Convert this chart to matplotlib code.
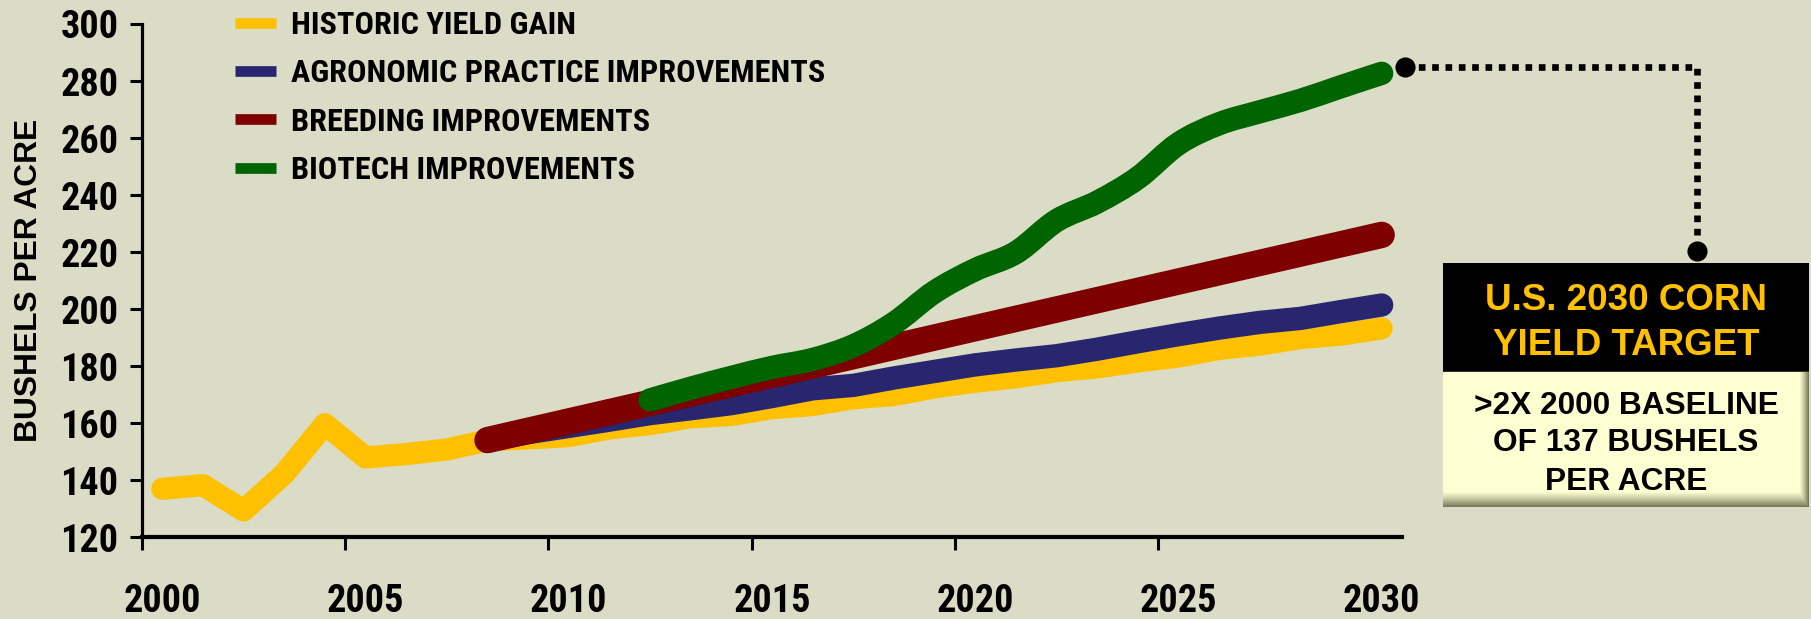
import numpy as np
import matplotlib
matplotlib.use("Agg")
import matplotlib.pyplot as plt
from matplotlib.path import Path
from matplotlib.patches import PathPatch, Rectangle
from matplotlib.font_manager import FontProperties
from matplotlib import font_manager as fm

# ---------------- data ----------------
hist_years = list(range(2000, 2031))
hist_yield = [136.9, 138.2, 129.3, 142.2, 159.6, 147.9, 149.1, 150.7, 153.9, 154.6,
              155.4, 158.1, 159.6, 162.0, 162.8, 165.2, 166.3, 168.7, 169.8, 172.5,
              174.5, 176.0, 178.2, 179.5, 181.6, 183.3, 186.0, 187.5, 189.8, 191.0, 193.2]

agro_years = list(range(2008, 2031))
agro_yield = [153.9, 156.6, 158.8, 161.0, 163.3, 165.0, 166.8, 169.3, 172.0, 173.2,
              175.8, 178.1, 180.4, 182.1, 183.6, 185.9, 188.5, 191.0, 193.3, 195.3,
              196.7, 199.1, 201.4]

breed_years = [2008, 2030]
breed_yield = [154.0, 226.0]

bio_years = list(range(2012, 2031))
bio_yield = [168.1, 172.2, 176.0, 179.5, 182.3, 187.1, 195.0, 206.0, 213.8, 219.8,
             231.0, 237.5, 246.0, 258.0, 265.0, 269.2, 273.2, 278.0, 282.7]

series_labels = ["HISTORIC YIELD GAIN", "AGRONOMIC PRACTICE IMPROVEMENTS",
                 "BREEDING IMPROVEMENTS", "BIOTECH IMPROVEMENTS"]
label_years = [2000, 2005, 2010, 2015, 2020, 2025, 2030]
y_ticks = list(range(120, 301, 20))

box_title = ["U.S. 2030 CORN", "YIELD TARGET"]
box_body = [">2X 2000 BASELINE", "OF 137 BUSHELS", "PER ACRE"]

# ---------------- style ----------------
BG = "#DBDCC5"
YELLOW = "#FFC000"
NAVY = "#28266F"
MAROON = "#7E0000"
GREEN = "#006400"
CREAM = "#FEFED3"
WIDE = ["Liberation Sans", "DejaVu Sans"]


def bold_families():
    out = set()
    for f in fm.fontManager.ttflist:
        w = f.weight
        if isinstance(w, str):
            w = fm.weight_dict.get(w, 400)
        if f.style == "normal" and w >= 600:
            out.add(f.name)
    return out


_have = bold_families()
_narrow_cands = ["Liberation Sans Narrow", "Arial Narrow", "Roboto Condensed", "PT Sans Narrow",
                 "Open Sans Condensed", "Barlow Semi Condensed", "Fira Sans Condensed",
                 "IBM Plex Sans Condensed"]
NARROW_FAM = next((c for c in _narrow_cands if c in _have), None)
if NARROW_FAM is None:
    def narrow_fp(size):
        return FontProperties(family="DejaVu Sans", stretch="condensed", weight="bold", size=size)
else:
    def narrow_fp(size):
        return FontProperties(family=[NARROW_FAM, "Liberation Sans"], weight="bold", size=size)

W, H = 1811, 619
fig = plt.figure(figsize=(W / 100, H / 100), dpi=100, facecolor=BG)
renderer = fig.canvas.get_renderer()


def text_size_for(s, fp_func, target_px):
    t = fig.text(0, 0, s, fontproperties=fp_func(100))
    bb = t.get_window_extent(renderer)
    t.remove()
    return 100 * target_px / bb.width


tick_size = text_size_for("300", narrow_fp, 58)
legend_size = text_size_for(series_labels[1], narrow_fp, 534)
wide_fp = lambda s: FontProperties(family=WIDE, weight="bold", size=s)
ylabel_size = text_size_for("BUSHELS PER ACRE", wide_fp, 323)

ax_l, ax_r, ax_t, ax_b = 142, 1402, 24, 537
ax = fig.add_axes([ax_l / W, 1 - ax_b / H, (ax_r - ax_l) / W, (ax_b - ax_t) / H], facecolor=BG)

ax.plot(hist_years, hist_yield, color=YELLOW, lw=16, solid_capstyle="round",
        solid_joinstyle="round", label=series_labels[0], zorder=2, clip_on=False)
ax.plot(agro_years, agro_yield, color=NAVY, lw=16.8, solid_capstyle="round",
        solid_joinstyle="round", label=series_labels[1], zorder=3, clip_on=False)
ax.plot(breed_years, breed_yield, color=MAROON, lw=19, solid_capstyle="round",
        solid_joinstyle="round", label=series_labels[2], zorder=4, clip_on=False)

# smoothed (Bezier) biotech line, like a spreadsheet "smoothed line"
P = np.column_stack([bio_years, bio_yield]).astype(float)
ext = np.vstack([P[0], P, P[-1]])
verts = [tuple(P[0])]
codes = [Path.MOVETO]
for i in range(len(P) - 1):
    p_prev, p0, p1, p_next = ext[i], ext[i + 1], ext[i + 2], ext[i + 3]
    c1 = p0 + (p1 - p_prev) / 6.0
    c2 = p1 - (p_next - p0) / 6.0
    verts += [tuple(c1), tuple(c2), tuple(p1)]
    codes += [Path.CURVE4] * 3
bio_patch = PathPatch(Path(verts, codes), fill=False, edgecolor=GREEN, lw=16.8,
                      capstyle="round", joinstyle="round", zorder=5, clip_on=False)
ax.add_patch(bio_patch)
ax.plot([], [], color=GREEN, lw=16.8, label=series_labels[3])

ax.set_xlim(label_years[0] - 0.5, label_years[-1] + 0.5)
ax.set_ylim(y_ticks[0], y_ticks[-1])

# category-style x axis: ticks at boundaries, labels at category centres
tick_fp = narrow_fp(tick_size)
ax.set_xticks([y - 0.5 for y in label_years[:-1]])
ax.set_xticklabels([])
ax.set_xticks(label_years, minor=True)
ax.set_xticklabels([str(y) for y in label_years], minor=True, fontproperties=tick_fp)
ax.tick_params(axis="x", which="major", direction="out", length=9, width=2.2, color="black")
ax.tick_params(axis="x", which="minor", length=0, pad=33)
ax.set_yticks(y_ticks)
ax.set_yticklabels([str(v) for v in y_ticks], fontproperties=tick_fp)
ax.tick_params(axis="y", direction="out", length=9, width=2.2, pad=8)

for s in ["top", "right"]:
    ax.spines[s].set_visible(False)
ax.spines["left"].set_linewidth(2.3)
ax.spines["bottom"].set_linewidth(3.0)

ax.set_ylabel("BUSHELS PER ACRE", fontproperties=wide_fp(ylabel_size), va="center")
ax.yaxis.set_label_coords((29 - ax_l) / (ax_r - ax_l), 0.5)

# legend: fit row spacing and position to the reference rows
row_targets = [25.0, 73.0, 121.5, 170.0]   # text-box centres, px from top
handle_left = 235
leg_fp = narrow_fp(legend_size)
fs_px = legend_size * 100 / 72


def make_legend(ls, top_px):
    lg = ax.legend(loc="upper left", bbox_to_anchor=(handle_left / W, 1 - top_px / H),
                   bbox_transform=fig.transFigure, frameon=False, prop=leg_fp,
                   handlelength=41 / fs_px, handletextpad=15 / fs_px, labelspacing=ls,
                   borderpad=0, borderaxespad=0)
    for hl in lg.get_lines():
        hl.set_linewidth(7.7)
        hl.set_solid_capstyle("butt")
    return lg


def centres(lg):
    fig.canvas.draw()
    return [H - (t.get_window_extent(renderer).y0 + t.get_window_extent(renderer).y1) / 2
            for t in lg.get_texts()]


ls, top = 0.5, 4.0
for _ in range(3):
    leg = make_legend(ls, top)
    c = centres(leg)
    leg.remove()
    ls += ((row_targets[-1] - row_targets[0]) - (c[-1] - c[0])) / 3 / fs_px
leg = make_legend(ls, top)
c = centres(leg)
leg.remove()
top += row_targets[0] - c[0]
leg = make_legend(ls, top)

# ---------------- overlay in pixel coordinates ----------------
ov = fig.add_axes([0, 0, 1, 1])
ov.set_xlim(0, W)
ov.set_ylim(H, 0)
ov.axis("off")
ov.patch.set_alpha(0)
ov.plot([1405, 1697, 1697], [67, 67, 251], color="black", lw=4.8, dashes=(1, 1),
        dash_capstyle="butt", solid_joinstyle="miter")
ov.plot([1405, 1697], [67, 251], "o", ms=13.5, color="black", ls="none")

# target box
bx0, bx1, by0, by1, bmid = 1443, 1809, 263, 507, 372
bx = fig.add_axes([bx0 / W, 1 - by1 / H, (bx1 - bx0) / W, (by1 - by0) / H])
bw, bh = bx1 - bx0, by1 - by0
bx.axis("off")
bx.add_patch(Rectangle((0, 0), bw, bmid - by0, color="black"))
bx.add_patch(Rectangle((0, bmid - by0), bw, by1 - bmid, color=CREAM))
ch = by1 - bmid
rows = np.arange(ch)[:, None]
cols = np.arange(bw)[None, :]
d_b = (ch - 1 - rows) / 15.0
d_r = (bw - 1 - cols) / 9.0
shade = np.clip(np.maximum(1 - d_b, 1 - d_r), 0, 1) ** 1.2
img = np.zeros((ch, bw, 4))
img[..., 0] = 0.42
img[..., 1] = 0.42
img[..., 2] = 0.30
img[..., 3] = shade * 0.9
bx.imshow(img, extent=(0, bw, by1 - by0, bmid - by0), interpolation="bilinear", zorder=3, aspect="auto")
bx.set_xlim(0, bw)
bx.set_ylim(bh, 0)

title_fp = FontProperties(family=WIDE, weight="bold", size=26.5)
body_fp = FontProperties(family=WIDE, weight="bold", size=22.8)
for txt, yc in zip(box_title, [297, 342]):
    bx.text(bw / 2, yc - by0 + 13.2, txt, ha="center", va="baseline", color=YELLOW,
            fontproperties=title_fp, zorder=4)
for txt, yc in zip(box_body, [403, 440, 479]):
    bx.text(bw / 2, yc - by0 + 11.3, txt, ha="center", va="baseline", color="black",
            fontproperties=body_fp, zorder=4)

fig.savefig("out.png", dpi=100, facecolor=BG)
